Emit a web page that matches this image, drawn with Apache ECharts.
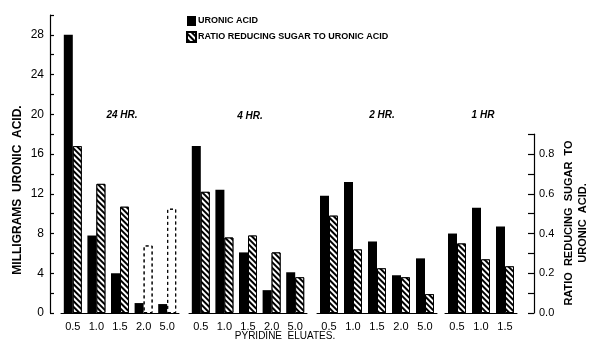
<!DOCTYPE html>
<html><head><meta charset="utf-8">
<script src="https://cdn.jsdelivr.net/npm/echarts/dist/echarts.min.js"></script>
<style>html,body{margin:0;padding:0;background:#fff}#c{width:590px;height:346px}</style>
</head><body><div id="c"></div>
<script>
// ---- data ----
const groupLabels = ['24 HR.', '4 HR.', '2 HR.', '1 HR'];
const cats24 = ['0.5', '1.0', '1.5', '2.0', '5.0'];
const uronic24 = [28.0, 7.8, 4.0, 1.0, 0.9];
const ratio24 = [0.84, 0.65, 0.535, 0.34, 0.525];
const ratio24Dashed = [false, false, false, true, true];
const cats4 = ['0.5', '1.0', '1.5', '2.0', '5.0'];
const uronic4 = [16.8, 12.4, 6.1, 2.3, 4.1];
const ratio4 = [0.61, 0.38, 0.39, 0.305, 0.18];
const cats2 = ['0.5', '1.0', '1.5', '2.0', '5.0'];
const uronic2 = [11.8, 13.2, 7.2, 3.8, 5.5];
const ratio2 = [0.49, 0.32, 0.225, 0.18, 0.095];
const cats1 = ['0.5', '1.0', '1.5'];
const uronic1 = [8.0, 10.6, 8.7];
const ratio1 = [0.35, 0.27, 0.235];
const uronicTickLabels = [0, 4, 8, 12, 16, 20, 24, 28];
const ratioTickLabels = [0.0, 0.2, 0.4, 0.6, 0.8];
const seriesNames = ['URONIC ACID', 'RATIO REDUCING SUGAR TO URONIC ACID'];

// ---- layout / style ----
const FONT = 'Liberation Sans';
const groups = [
  {cats: cats24, uronic: uronic24, ratio: ratio24, dashed: ratio24Dashed},
  {cats: cats4, uronic: uronic4, ratio: ratio4},
  {cats: cats2, uronic: uronic2, ratio: ratio2},
  {cats: cats1, uronic: uronic1, ratio: ratio1}
];
const groupLayout = [{left: 61, width: 118}, {left: 189, width: 118}, {left: 317, width: 120}, {left: 445, width: 72}];
const groupLabelPos = [[122, 115], [250, 116], [382, 115], [483, 115]];
const GT = 15, GB = 33;
const U_MAX = 30, R_MAX = 1.5, R_AXIS_MAX = 0.9;
const rightTop = 346 - GB - (346 - GT - GB) * R_AXIS_MAX / R_MAX;

const hatch = {symbol: 'rect', symbolSize: 1, dashArrayX: [1, 0], dashArrayY: [1.8, 1.8],
  rotation: Math.PI / 4, color: '#000', backgroundColor: '#fff'};

const grid = [], xAxis = [], yAxis = [], series = [];
groups.forEach((g, i) => {
  grid.push({left: groupLayout[i].left, width: groupLayout[i].width, top: GT, bottom: GB, outerBoundsMode: 'none'});
  xAxis.push({type: 'category', gridIndex: i, data: g.cats,
    axisLine: {lineStyle: {color: '#000', width: 1}}, axisTick: {show: false},
    axisLabel: {color: '#000', fontSize: 11, fontFamily: FONT, margin: 8, interval: 0}});
  yAxis.push({type: 'value', gridIndex: i, min: 0, max: U_MAX, show: false, splitLine: {show: false}});
  yAxis.push({type: 'value', gridIndex: i, min: 0, max: R_MAX, show: false, splitLine: {show: false}});
  series.push({type: 'bar', name: seriesNames[0], xAxisIndex: i, yAxisIndex: 2 * i,
    data: g.uronic, barWidth: 9, barGap: '0%', itemStyle: {color: '#000'}});
  series.push({type: 'bar', name: seriesNames[1], xAxisIndex: i, yAxisIndex: 2 * i + 1,
    data: g.ratio.map((v, k) => (g.dashed && g.dashed[k]) ? {value: v, itemStyle: {
      color: '#fff', borderColor: '#000', borderType: [3, 3], borderWidth: 1,
      decal: {symbol: 'rect', color: 'rgba(0,0,0,0)', backgroundColor: 'rgba(0,0,0,0)'}}} : v),
    barWidth: 9, barGap: '0%',
    itemStyle: {color: '#fff', borderColor: '#000', borderWidth: 1, decal: hatch}});
});
// decorative axes
grid.push({left: 50, width: 1, top: GT, bottom: GB, outerBoundsMode: 'none'});
grid.push({left: 534, width: 1, top: rightTop, bottom: GB, outerBoundsMode: 'none'});
xAxis.push({type: 'value', gridIndex: 4, show: false});
xAxis.push({type: 'value', gridIndex: 5, show: false});
yAxis.push({type: 'value', gridIndex: 4, position: 'left', min: 0, max: U_MAX, interval: 2,
  splitLine: {show: false},
  axisLine: {show: true, lineStyle: {color: '#000', width: 1.2}},
  axisTick: {show: true, inside: true, length: 4, lineStyle: {color: '#000', width: 1.2}},
  axisLabel: {color: '#000', fontSize: 12, fontFamily: FONT, margin: 6,
    formatter: v => uronicTickLabels.includes(v) ? String(v) : ''}});
yAxis.push({type: 'value', gridIndex: 5, position: 'right', min: 0, max: R_AXIS_MAX, interval: 0.1,
  splitLine: {show: false},
  axisLine: {show: true, lineStyle: {color: '#000', width: 1.2}},
  axisTick: {show: true, inside: true, length: 6, lineStyle: {color: '#000', width: 1.2}},
  axisLabel: {color: '#000', fontSize: 11, fontFamily: FONT, margin: 4,
    formatter: v => ratioTickLabels.some(t => Math.abs(t - v) < 1e-6) ? v.toFixed(1) : ''}});

const graphic = groupLabels.map((t, i) => ({type: 'text', x: groupLabelPos[i][0], y: groupLabelPos[i][1],
  style: {text: t, font: 'italic bold 10px ' + FONT, fill: '#000', align: 'center', verticalAlign: 'middle'}}));
graphic.push({type: 'text', x: 18, y: 190, rotation: Math.PI / 2,
  style: {text: 'MILLIGRAMS  URONIC  ACID.', font: 'bold 12px ' + FONT, fill: '#000', align: 'center', verticalAlign: 'middle'}});
graphic.push({type: 'text', x: 576, y: 223, rotation: Math.PI / 2,
  style: {text: 'RATIO  REDUCING  SUGAR  TO\nURONIC  ACID.', font: 'bold 11px ' + FONT, fill: '#000', align: 'center', verticalAlign: 'middle', lineHeight: 14}});
graphic.push({type: 'text', x: 285, y: 336,
  style: {text: 'PYRIDINE  ELUATES.', font: '10px ' + FONT, fill: '#000', align: 'center', verticalAlign: 'middle'}});

const chart = echarts.init(document.getElementById('c'), null, {renderer: 'canvas'});
chart.setOption({
  animation: false,
  backgroundColor: '#fff',
  legend: {data: seriesNames, orient: 'vertical', left: 181, top: 11, icon: 'rect',
    itemWidth: 9, itemHeight: 10, itemGap: 5, selectedMode: false,
    textStyle: {color: '#000', fontSize: 9, fontWeight: 'bold', fontFamily: FONT, padding: [0, 0, 0, -3]}},
  grid, xAxis, yAxis, series, graphic
});
</script></body></html>
